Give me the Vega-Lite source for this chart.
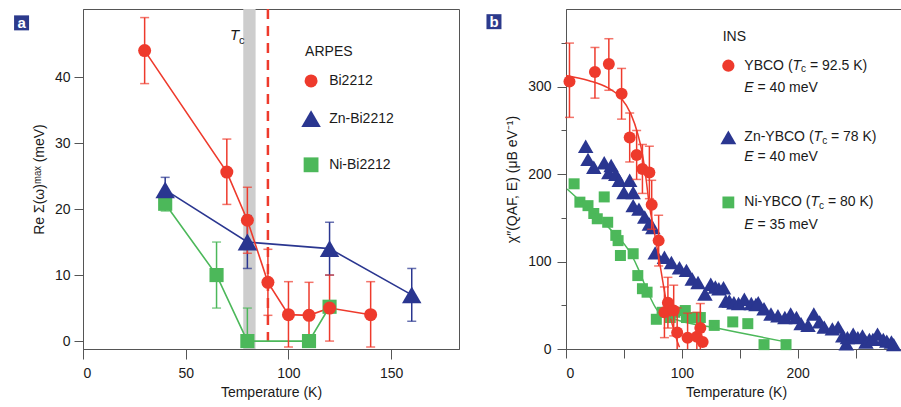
{
"$schema": "https://vega.github.io/schema/vega-lite/v6.json",
"background": "white",
"padding": {"left": 13, "top": 7, "right": 0, "bottom": 0},
"spacing": 107,
"bounds": "flush",
"config": {
  "font": "Liberation Sans, Arial, sans-serif",
  "view": {"stroke": "#555555", "strokeWidth": 1},
  "axis": {"labelFontSize": 14, "titleFontSize": 14, "titleFontWeight": "normal", "labelColor": "#1a1a1a", "titleColor": "#1a1a1a", "domainColor": "#555555", "tickColor": "#555555", "grid": false},
  "text": {"fontSize": 14, "color": "#1a1a1a"},
  "legend": {"disable": true}
},
"datasets": {
  "arpes": [
    {"series": "Ni-Bi2212", "T": 40, "value": 20.8, "lo": 19.7, "hi": 22},
    {"series": "Ni-Bi2212", "T": 65, "value": 10, "lo": 5, "hi": 15},
    {"series": "Ni-Bi2212", "T": 80, "value": 0, "lo": 0, "hi": 5},
    {"series": "Ni-Bi2212", "T": 110, "value": 0},
    {"series": "Ni-Bi2212", "T": 120, "value": 5.2},
    {"series": "Zn-Bi2212", "T": 40, "value": 22.9, "lo": 21.3, "hi": 24.8},
    {"series": "Zn-Bi2212", "T": 80, "value": 15, "lo": 11, "hi": 19},
    {"series": "Zn-Bi2212", "T": 120, "value": 14, "lo": 10, "hi": 18},
    {"series": "Zn-Bi2212", "T": 160, "value": 7, "lo": 3, "hi": 11},
    {"series": "Bi2212", "T": 30, "value": 44, "lo": 39, "hi": 49},
    {"series": "Bi2212", "T": 70, "value": 25.6, "lo": 20.7, "hi": 30.6},
    {"series": "Bi2212", "T": 80, "value": 18.3, "lo": 13.3, "hi": 23.3},
    {"series": "Bi2212", "T": 90, "value": 8.9, "lo": 3.9, "hi": 13.9},
    {"series": "Bi2212", "T": 100, "value": 4, "lo": -0.9, "hi": 9},
    {"series": "Bi2212", "T": 110, "value": 3.9, "lo": -0.9, "hi": 8.9},
    {"series": "Bi2212", "T": 120, "value": 5, "lo": 0, "hi": 10},
    {"series": "Bi2212", "T": 140, "value": 4, "lo": -0.9, "hi": 9}
  ],
  "ins": [
    {"series": "Ni-YBCO", "T": 7, "value": 189},
    {"series": "Ni-YBCO", "T": 12, "value": 168},
    {"series": "Ni-YBCO", "T": 19, "value": 164},
    {"series": "Ni-YBCO", "T": 24, "value": 155},
    {"series": "Ni-YBCO", "T": 27, "value": 149},
    {"series": "Ni-YBCO", "T": 33, "value": 174},
    {"series": "Ni-YBCO", "T": 36, "value": 145},
    {"series": "Ni-YBCO", "T": 43, "value": 130},
    {"series": "Ni-YBCO", "T": 45, "value": 124},
    {"series": "Ni-YBCO", "T": 47, "value": 107},
    {"series": "Ni-YBCO", "T": 58, "value": 109},
    {"series": "Ni-YBCO", "T": 62, "value": 84},
    {"series": "Ni-YBCO", "T": 66, "value": 69},
    {"series": "Ni-YBCO", "T": 70, "value": 65},
    {"series": "Ni-YBCO", "T": 78, "value": 34},
    {"series": "Ni-YBCO", "T": 83, "value": 42},
    {"series": "Ni-YBCO", "T": 90, "value": 36},
    {"series": "Ni-YBCO", "T": 94, "value": 42},
    {"series": "Ni-YBCO", "T": 103, "value": 44},
    {"series": "Ni-YBCO", "T": 104, "value": 36},
    {"series": "Ni-YBCO", "T": 109, "value": 36},
    {"series": "Ni-YBCO", "T": 116, "value": 36},
    {"series": "Ni-YBCO", "T": 128, "value": 27},
    {"series": "Ni-YBCO", "T": 144, "value": 31},
    {"series": "Ni-YBCO", "T": 157, "value": 29},
    {"series": "Ni-YBCO", "T": 171, "value": 5},
    {"series": "Ni-YBCO", "T": 190, "value": 5},
    {"series": "Zn-YBCO", "T": 17, "value": 232},
    {"series": "Zn-YBCO", "T": 19, "value": 217},
    {"series": "Zn-YBCO", "T": 24, "value": 208},
    {"series": "Zn-YBCO", "T": 33, "value": 213},
    {"series": "Zn-YBCO", "T": 37, "value": 202},
    {"series": "Zn-YBCO", "T": 39, "value": 210},
    {"series": "Zn-YBCO", "T": 43, "value": 200},
    {"series": "Zn-YBCO", "T": 46, "value": 193},
    {"series": "Zn-YBCO", "T": 50, "value": 179},
    {"series": "Zn-YBCO", "T": 55, "value": 193},
    {"series": "Zn-YBCO", "T": 58, "value": 179},
    {"series": "Zn-YBCO", "T": 58, "value": 164},
    {"series": "Zn-YBCO", "T": 63, "value": 160},
    {"series": "Zn-YBCO", "T": 68, "value": 151},
    {"series": "Zn-YBCO", "T": 72, "value": 143},
    {"series": "Zn-YBCO", "T": 75, "value": 139},
    {"series": "Zn-YBCO", "T": 77, "value": 110},
    {"series": "Zn-YBCO", "T": 85, "value": 105},
    {"series": "Zn-YBCO", "T": 91, "value": 99},
    {"series": "Zn-YBCO", "T": 98, "value": 93},
    {"series": "Zn-YBCO", "T": 104, "value": 90},
    {"series": "Zn-YBCO", "T": 109, "value": 80},
    {"series": "Zn-YBCO", "T": 114, "value": 76},
    {"series": "Zn-YBCO", "T": 120, "value": 63},
    {"series": "Zn-YBCO", "T": 125, "value": 74},
    {"series": "Zn-YBCO", "T": 129, "value": 71},
    {"series": "Zn-YBCO", "T": 132, "value": 69},
    {"series": "Zn-YBCO", "T": 136, "value": 70},
    {"series": "Zn-YBCO", "T": 138, "value": 55},
    {"series": "Zn-YBCO", "T": 141, "value": 55},
    {"series": "Zn-YBCO", "T": 145, "value": 53},
    {"series": "Zn-YBCO", "T": 149, "value": 52},
    {"series": "Zn-YBCO", "T": 154, "value": 57},
    {"series": "Zn-YBCO", "T": 160, "value": 52},
    {"series": "Zn-YBCO", "T": 164, "value": 51},
    {"series": "Zn-YBCO", "T": 166, "value": 53},
    {"series": "Zn-YBCO", "T": 171, "value": 46},
    {"series": "Zn-YBCO", "T": 177, "value": 40},
    {"series": "Zn-YBCO", "T": 183, "value": 38},
    {"series": "Zn-YBCO", "T": 189, "value": 36},
    {"series": "Zn-YBCO", "T": 194, "value": 40},
    {"series": "Zn-YBCO", "T": 199, "value": 36},
    {"series": "Zn-YBCO", "T": 203, "value": 29},
    {"series": "Zn-YBCO", "T": 209, "value": 27},
    {"series": "Zn-YBCO", "T": 214, "value": 40},
    {"series": "Zn-YBCO", "T": 219, "value": 31},
    {"series": "Zn-YBCO", "T": 223, "value": 25},
    {"series": "Zn-YBCO", "T": 230, "value": 23},
    {"series": "Zn-YBCO", "T": 235, "value": 25},
    {"series": "Zn-YBCO", "T": 239, "value": 15},
    {"series": "Zn-YBCO", "T": 242, "value": 6},
    {"series": "Zn-YBCO", "T": 243, "value": 13},
    {"series": "Zn-YBCO", "T": 248, "value": 17},
    {"series": "Zn-YBCO", "T": 252, "value": 13},
    {"series": "Zn-YBCO", "T": 256, "value": 15},
    {"series": "Zn-YBCO", "T": 259, "value": 8},
    {"series": "Zn-YBCO", "T": 262, "value": 11},
    {"series": "Zn-YBCO", "T": 265, "value": 11},
    {"series": "Zn-YBCO", "T": 269, "value": 17},
    {"series": "Zn-YBCO", "T": 274, "value": 11},
    {"series": "Zn-YBCO", "T": 277, "value": 9},
    {"series": "Zn-YBCO", "T": 281, "value": 8},
    {"series": "Zn-YBCO", "T": 283, "value": 5},
    {"series": "YBCO", "T": 3, "value": 306, "lo": 265, "hi": 350},
    {"series": "YBCO", "T": 25, "value": 317, "lo": 287, "hi": 345},
    {"series": "YBCO", "T": 37, "value": 326, "lo": 296, "hi": 355},
    {"series": "YBCO", "T": 48, "value": 292, "lo": 263, "hi": 321},
    {"series": "YBCO", "T": 55, "value": 242, "lo": 214, "hi": 270},
    {"series": "YBCO", "T": 61, "value": 222, "lo": 194, "hi": 250},
    {"series": "YBCO", "T": 66, "value": 206, "lo": 178, "hi": 234},
    {"series": "YBCO", "T": 72, "value": 202, "lo": 172, "hi": 232},
    {"series": "YBCO", "T": 74, "value": 165, "lo": 137, "hi": 193},
    {"series": "YBCO", "T": 80, "value": 124, "lo": 95, "hi": 153},
    {"series": "YBCO", "T": 85, "value": 42, "lo": 13, "hi": 71},
    {"series": "YBCO", "T": 88, "value": 53, "lo": 24, "hi": 82},
    {"series": "YBCO", "T": 93, "value": 44, "lo": 15, "hi": 73},
    {"series": "YBCO", "T": 96, "value": 19, "lo": -9, "hi": 47},
    {"series": "YBCO", "T": 105, "value": 13, "lo": -15, "hi": 41},
    {"series": "YBCO", "T": 113, "value": 14, "lo": -14, "hi": 42},
    {"series": "YBCO", "T": 116, "value": 24, "lo": -4, "hi": 52},
    {"series": "YBCO", "T": 118, "value": 8}
  ],
  "fits": [
    {"series": "YBCO", "T": 0, "value": 313},
    {"series": "YBCO", "T": 20, "value": 307},
    {"series": "YBCO", "T": 36, "value": 299},
    {"series": "YBCO", "T": 47, "value": 288},
    {"series": "YBCO", "T": 56, "value": 269},
    {"series": "YBCO", "T": 62, "value": 246},
    {"series": "YBCO", "T": 66, "value": 223},
    {"series": "YBCO", "T": 69, "value": 196},
    {"series": "YBCO", "T": 72, "value": 164},
    {"series": "YBCO", "T": 76, "value": 136},
    {"series": "YBCO", "T": 79, "value": 113},
    {"series": "YBCO", "T": 82, "value": 90},
    {"series": "YBCO", "T": 86, "value": 59},
    {"series": "YBCO", "T": 91, "value": 32},
    {"series": "YBCO", "T": 95, "value": 13},
    {"series": "YBCO", "T": 98, "value": 2},
    {"series": "Ni-YBCO", "T": 1, "value": 183},
    {"series": "Ni-YBCO", "T": 20, "value": 160},
    {"series": "Ni-YBCO", "T": 39, "value": 136},
    {"series": "Ni-YBCO", "T": 56, "value": 109},
    {"series": "Ni-YBCO", "T": 63, "value": 90},
    {"series": "Ni-YBCO", "T": 70, "value": 67},
    {"series": "Ni-YBCO", "T": 79, "value": 44},
    {"series": "Ni-YBCO", "T": 88, "value": 37},
    {"series": "Ni-YBCO", "T": 99, "value": 32},
    {"series": "Ni-YBCO", "T": 130, "value": 24},
    {"series": "Ni-YBCO", "T": 160, "value": 16},
    {"series": "Ni-YBCO", "T": 194, "value": 7}
  ]
},
"hconcat": [
  {
    "width": 376,
    "height": 340,
    "layer": [
      {"data": {"values": [{}]}, "mark": {"type": "rect", "color": "#cdcdcd"}, "encoding": {"x": {"datum": 78, "type": "quantitative"}, "x2": {"datum": 84}}},
      {"data": {"values": [{}]}, "mark": {"type": "rule", "color": "#ee3a2c", "strokeWidth": 2.5, "strokeDash": [10, 7]}, "encoding": {"x": {"datum": 90, "type": "quantitative"}}},
      {
        "data": {"name": "arpes"},
        "mark": {"type": "line", "strokeWidth": 1.6},
        "encoding": {
          "x": {"field": "T", "type": "quantitative", "scale": {"domain": [0, 183], "nice": false, "zero": false},
                "axis": {"title": "Temperature (K)", "values": [0, 50, 100, 150], "tickSize": 10, "labelPadding": 7, "titlePadding": 5}},
          "y": {"field": "value", "type": "quantitative", "scale": {"domain": [-1.2, 50.3], "nice": false, "zero": false},
                "axis": {"title": "Re Σ(ω)ᵐᵃˣ (meV)", "values": [0, 10, 20, 30, 40], "tickSize": 9, "labelPadding": 4, "titlePadding": 8}},
          "color": {"field": "series", "type": "nominal", "scale": {"domain": ["Bi2212", "Zn-Bi2212", "Ni-Bi2212"], "range": ["#ee3a2c", "#2a3690", "#4cb85a"]}}
        }
      },
      {
        "data": {"name": "arpes"},
        "transform": [{"filter": {"field": "lo", "valid": true}}],
        "mark": {"type": "rule", "strokeWidth": 1.5},
        "encoding": {"x": {"field": "T", "type": "quantitative"}, "y": {"field": "lo", "type": "quantitative"}, "y2": {"field": "hi"}, "color": {"field": "series", "type": "nominal"}}
      },
      {
        "data": {"name": "arpes"},
        "transform": [{"filter": {"field": "lo", "valid": true}}],
        "mark": {"type": "tick", "orient": "horizontal", "size": 9, "thickness": 1.5},
        "encoding": {"x": {"field": "T", "type": "quantitative"}, "y": {"field": "lo", "type": "quantitative"}, "color": {"field": "series", "type": "nominal"}}
      },
      {
        "data": {"name": "arpes"},
        "transform": [{"filter": {"field": "hi", "valid": true}}],
        "mark": {"type": "tick", "orient": "horizontal", "size": 9, "thickness": 1.5},
        "encoding": {"x": {"field": "T", "type": "quantitative"}, "y": {"field": "hi", "type": "quantitative"}, "color": {"field": "series", "type": "nominal"}}
      },
      {
        "data": {"name": "arpes"},
        "transform": [{"filter": "datum.series === 'Ni-Bi2212'"}],
        "mark": {"type": "point", "shape": "square", "filled": true, "opacity": 1, "size": 200, "color": "#4cb85a"},
        "encoding": {"x": {"field": "T", "type": "quantitative"}, "y": {"field": "value", "type": "quantitative"}}
      },
      {
        "data": {"name": "arpes"},
        "transform": [{"filter": "datum.series === 'Zn-Bi2212'"}],
        "mark": {"type": "point", "shape": "triangle-up", "filled": true, "opacity": 1, "size": 380, "color": "#2a3690"},
        "encoding": {"x": {"field": "T", "type": "quantitative"}, "y": {"field": "value", "type": "quantitative"}}
      },
      {
        "data": {"name": "arpes"},
        "transform": [{"filter": "datum.series === 'Bi2212'"}],
        "mark": {"type": "point", "shape": "circle", "filled": true, "opacity": 1, "size": 169, "color": "#ee3a2c"},
        "encoding": {"x": {"field": "T", "type": "quantitative"}, "y": {"field": "value", "type": "quantitative"}}
      },
      {"data": {"values": [{}]}, "mark": {"type": "text", "fontStyle": "italic", "fontSize": 15, "align": "left", "baseline": "middle"}, "encoding": {"x": {"datum": 71.6, "type": "quantitative"}, "y": {"datum": 46.3, "type": "quantitative"}, "text": {"value": "T"}}},
      {"data": {"values": [{}]}, "mark": {"type": "text", "fontSize": 11, "align": "left", "baseline": "middle"}, "encoding": {"x": {"datum": 75.9, "type": "quantitative"}, "y": {"datum": 45.5, "type": "quantitative"}, "text": {"value": "c"}}},
      {"data": {"values": [{}]}, "mark": {"type": "text", "align": "left", "baseline": "middle"}, "encoding": {"x": {"datum": 108.1, "type": "quantitative"}, "y": {"datum": 43.8, "type": "quantitative"}, "text": {"value": "ARPES"}}},
      {"data": {"values": [{}]}, "mark": {"type": "point", "shape": "circle", "filled": true, "opacity": 1, "color": "#ee3a2c", "size": 169}, "encoding": {"x": {"datum": 111, "type": "quantitative"}, "y": {"datum": 39.4, "type": "quantitative"}}},
      {"data": {"values": [{}]}, "mark": {"type": "point", "shape": "triangle-up", "filled": true, "opacity": 1, "color": "#2a3690", "size": 380}, "encoding": {"x": {"datum": 111, "type": "quantitative"}, "y": {"datum": 33.7, "type": "quantitative"}}},
      {"data": {"values": [{}]}, "mark": {"type": "point", "shape": "square", "filled": true, "opacity": 1, "color": "#4cb85a", "size": 220}, "encoding": {"x": {"datum": 111, "type": "quantitative"}, "y": {"datum": 26.7, "type": "quantitative"}}},
      {"data": {"values": [{}]}, "mark": {"type": "text", "align": "left", "baseline": "middle"}, "encoding": {"x": {"datum": 119.8, "type": "quantitative"}, "y": {"datum": 39.4, "type": "quantitative"}, "text": {"value": "Bi2212"}}},
      {"data": {"values": [{}]}, "mark": {"type": "text", "align": "left", "baseline": "middle"}, "encoding": {"x": {"datum": 119.8, "type": "quantitative"}, "y": {"datum": 33.7, "type": "quantitative"}, "text": {"value": "Zn-Bi2212"}}},
      {"data": {"values": [{}]}, "mark": {"type": "text", "align": "left", "baseline": "middle"}, "encoding": {"x": {"datum": 119.8, "type": "quantitative"}, "y": {"datum": 26.7, "type": "quantitative"}, "text": {"value": "Ni-Bi2212"}}},
      {"data": {"values": [{}]}, "mark": {"type": "point", "shape": "square", "filled": true, "opacity": 1, "color": "#2c3a8c", "size": 225}, "encoding": {"x": {"datum": -29.9, "type": "quantitative"}, "y": {"datum": 48.2, "type": "quantitative"}}},
      {"data": {"values": [{}]}, "mark": {"type": "text", "fontSize": 15, "fontWeight": "bold", "color": "white", "align": "center", "baseline": "middle"}, "encoding": {"x": {"datum": -29.9, "type": "quantitative"}, "y": {"datum": 48.2, "type": "quantitative"}, "text": {"value": "a"}}}
    ]
  },
  {
    "width": 340,
    "height": 340,
    "layer": [
      {
        "data": {"name": "ins"},
        "transform": [{"filter": "datum.series === 'Ni-YBCO'"}],
        "mark": {"type": "point", "shape": "square", "filled": true, "opacity": 1, "size": 121, "color": "#4cb85a"},
        "encoding": {
          "x": {"field": "T", "type": "quantitative", "scale": {"domain": [0, 293.6], "nice": false, "zero": false},
                "axis": {"title": "Temperature (K)", "values": [0, 50, 100, 150, 200, 250], "labelExpr": "datum.value % 100 === 0 ? datum.label : ''", "tickSize": 9, "labelPadding": 8, "titlePadding": 5}},
          "y": {"field": "value", "type": "quantitative", "scale": {"domain": [0, 389], "nice": false, "zero": false},
                "axis": {"title": "χ″(QAF, E) (μB eV⁻¹)", "values": [0, 50, 100, 150, 200, 250, 300, 350], "labelExpr": "datum.value % 100 === 0 ? datum.label : ''", "tickSize": {"condition": {"test": "datum.value % 100 === 0", "value": 9}, "value": 5}, "labelPadding": 6, "titlePadding": 8}}
        }
      },
      {
        "data": {"name": "ins"},
        "transform": [{"filter": "datum.series === 'Zn-YBCO'"}],
        "mark": {"type": "point", "shape": "triangle-up", "filled": true, "opacity": 1, "size": 240, "color": "#2a3690"},
        "encoding": {"x": {"field": "T", "type": "quantitative"}, "y": {"field": "value", "type": "quantitative"}}
      },
      {
        "data": {"name": "fits"},
        "mark": {"type": "line", "strokeWidth": 1.5, "interpolate": "monotone"},
        "encoding": {"x": {"field": "T", "type": "quantitative"}, "y": {"field": "value", "type": "quantitative"}, "color": {"field": "series", "type": "nominal", "scale": {"domain": ["YBCO", "Zn-YBCO", "Ni-YBCO"], "range": ["#ee3a2c", "#2a3690", "#4cb85a"]}}}
      },
      {
        "data": {"name": "ins"},
        "transform": [{"filter": {"field": "lo", "valid": true}}],
        "mark": {"type": "rule", "strokeWidth": 1.5, "clip": true, "color": "#ee3a2c"},
        "encoding": {"x": {"field": "T", "type": "quantitative"}, "y": {"field": "lo", "type": "quantitative"}, "y2": {"field": "hi"}}
      },
      {
        "data": {"name": "ins"},
        "transform": [{"filter": "isValid(datum.lo) && datum.lo >= 0"}],
        "mark": {"type": "tick", "orient": "horizontal", "size": 9, "thickness": 1.5, "color": "#ee3a2c"},
        "encoding": {"x": {"field": "T", "type": "quantitative"}, "y": {"field": "lo", "type": "quantitative"}}
      },
      {
        "data": {"name": "ins"},
        "transform": [{"filter": {"field": "hi", "valid": true}}],
        "mark": {"type": "tick", "orient": "horizontal", "size": 9, "thickness": 1.5, "color": "#ee3a2c"},
        "encoding": {"x": {"field": "T", "type": "quantitative"}, "y": {"field": "hi", "type": "quantitative"}}
      },
      {
        "data": {"name": "ins"},
        "transform": [{"filter": "datum.series === 'YBCO'"}],
        "mark": {"type": "point", "shape": "circle", "filled": true, "opacity": 1, "size": 144, "color": "#ee3a2c"},
        "encoding": {"x": {"field": "T", "type": "quantitative"}, "y": {"field": "value", "type": "quantitative"}}
      },
      {"data": {"values": [{}]}, "mark": {"type": "text", "align": "left", "baseline": "middle"}, "encoding": {"x": {"datum": 135.3, "type": "quantitative"}, "y": {"datum": 356.5, "type": "quantitative"}, "text": {"value": "INS"}}},
      {"data": {"values": [{}]}, "mark": {"type": "point", "shape": "circle", "filled": true, "opacity": 1, "color": "#ee3a2c", "size": 150}, "encoding": {"x": {"datum": 140.2, "type": "quantitative"}, "y": {"datum": 324.1, "type": "quantitative"}}},
      {"data": {"values": [{}]}, "mark": {"type": "point", "shape": "triangle-up", "filled": true, "opacity": 1, "color": "#2a3690", "size": 250}, "encoding": {"x": {"datum": 140.2, "type": "quantitative"}, "y": {"datum": 242.1, "type": "quantitative"}}},
      {"data": {"values": [{}]}, "mark": {"type": "point", "shape": "square", "filled": true, "opacity": 1, "color": "#4cb85a", "size": 140}, "encoding": {"x": {"datum": 140.2, "type": "quantitative"}, "y": {"datum": 167.7, "type": "quantitative"}}},
      {"data": {"values": [{}]}, "mark": {"type": "text", "align": "left", "baseline": "middle"}, "encoding": {"x": {"datum": 154, "type": "quantitative"}, "y": {"datum": 324.1, "type": "quantitative"}, "text": {"value": "YBCO ("}}},
      {"data": {"values": [{}]}, "mark": {"type": "text", "fontStyle": "italic", "align": "left", "baseline": "middle"}, "encoding": {"x": {"datum": 195.6, "type": "quantitative"}, "y": {"datum": 324.1, "type": "quantitative"}, "text": {"value": "T"}}},
      {"data": {"values": [{}]}, "mark": {"type": "text", "fontSize": 10, "align": "left", "baseline": "middle"}, "encoding": {"x": {"datum": 203.0, "type": "quantitative"}, "y": {"datum": 320.1, "type": "quantitative"}, "text": {"value": "c"}}},
      {"data": {"values": [{}]}, "mark": {"type": "text", "align": "left", "baseline": "middle"}, "encoding": {"x": {"datum": 210.7, "type": "quantitative"}, "y": {"datum": 324.1, "type": "quantitative"}, "text": {"value": "= 92.5 K)"}}},
      {"data": {"values": [{}]}, "mark": {"type": "text", "fontStyle": "italic", "align": "left", "baseline": "middle"}, "encoding": {"x": {"datum": 154, "type": "quantitative"}, "y": {"datum": 298.6, "type": "quantitative"}, "text": {"value": "E"}}},
      {"data": {"values": [{}]}, "mark": {"type": "text", "align": "left", "baseline": "middle"}, "encoding": {"x": {"datum": 165.4, "type": "quantitative"}, "y": {"datum": 298.6, "type": "quantitative"}, "text": {"value": "= 40 meV"}}},
      {"data": {"values": [{}]}, "mark": {"type": "text", "align": "left", "baseline": "middle"}, "encoding": {"x": {"datum": 154, "type": "quantitative"}, "y": {"datum": 242.1, "type": "quantitative"}, "text": {"value": "Zn-YBCO ("}}},
      {"data": {"values": [{}]}, "mark": {"type": "text", "fontStyle": "italic", "align": "left", "baseline": "middle"}, "encoding": {"x": {"datum": 213.7, "type": "quantitative"}, "y": {"datum": 242.1, "type": "quantitative"}, "text": {"value": "T"}}},
      {"data": {"values": [{}]}, "mark": {"type": "text", "fontSize": 10, "align": "left", "baseline": "middle"}, "encoding": {"x": {"datum": 221.2, "type": "quantitative"}, "y": {"datum": 238.1, "type": "quantitative"}, "text": {"value": "c"}}},
      {"data": {"values": [{}]}, "mark": {"type": "text", "align": "left", "baseline": "middle"}, "encoding": {"x": {"datum": 228.8, "type": "quantitative"}, "y": {"datum": 242.1, "type": "quantitative"}, "text": {"value": "= 78 K)"}}},
      {"data": {"values": [{}]}, "mark": {"type": "text", "fontStyle": "italic", "align": "left", "baseline": "middle"}, "encoding": {"x": {"datum": 154, "type": "quantitative"}, "y": {"datum": 219.2, "type": "quantitative"}, "text": {"value": "E"}}},
      {"data": {"values": [{}]}, "mark": {"type": "text", "align": "left", "baseline": "middle"}, "encoding": {"x": {"datum": 165.4, "type": "quantitative"}, "y": {"datum": 219.2, "type": "quantitative"}, "text": {"value": "= 40 meV"}}},
      {"data": {"values": [{}]}, "mark": {"type": "text", "align": "left", "baseline": "middle"}, "encoding": {"x": {"datum": 154, "type": "quantitative"}, "y": {"datum": 167.7, "type": "quantitative"}, "text": {"value": "Ni-YBCO ("}}},
      {"data": {"values": [{}]}, "mark": {"type": "text", "fontStyle": "italic", "align": "left", "baseline": "middle"}, "encoding": {"x": {"datum": 211.1, "type": "quantitative"}, "y": {"datum": 167.7, "type": "quantitative"}, "text": {"value": "T"}}},
      {"data": {"values": [{}]}, "mark": {"type": "text", "fontSize": 10, "align": "left", "baseline": "middle"}, "encoding": {"x": {"datum": 218.5, "type": "quantitative"}, "y": {"datum": 163.7, "type": "quantitative"}, "text": {"value": "c"}}},
      {"data": {"values": [{}]}, "mark": {"type": "text", "align": "left", "baseline": "middle"}, "encoding": {"x": {"datum": 226.2, "type": "quantitative"}, "y": {"datum": 167.7, "type": "quantitative"}, "text": {"value": "= 80 K)"}}},
      {"data": {"values": [{}]}, "mark": {"type": "text", "fontStyle": "italic", "align": "left", "baseline": "middle"}, "encoding": {"x": {"datum": 154, "type": "quantitative"}, "y": {"datum": 142.2, "type": "quantitative"}, "text": {"value": "E"}}},
      {"data": {"values": [{}]}, "mark": {"type": "text", "align": "left", "baseline": "middle"}, "encoding": {"x": {"datum": 165.4, "type": "quantitative"}, "y": {"datum": 142.2, "type": "quantitative"}, "text": {"value": "= 35 meV"}}},
      {"data": {"values": [{}]}, "mark": {"type": "point", "shape": "square", "filled": true, "opacity": 1, "color": "#2c3a8c", "size": 225}, "encoding": {"x": {"datum": -62.2, "type": "quantitative"}, "y": {"datum": 374.5, "type": "quantitative"}}},
      {"data": {"values": [{}]}, "mark": {"type": "text", "fontSize": 15, "fontWeight": "bold", "color": "white", "align": "center", "baseline": "middle"}, "encoding": {"x": {"datum": -62.2, "type": "quantitative"}, "y": {"datum": 374.5, "type": "quantitative"}, "text": {"value": "b"}}}
    ]
  }
]
}
